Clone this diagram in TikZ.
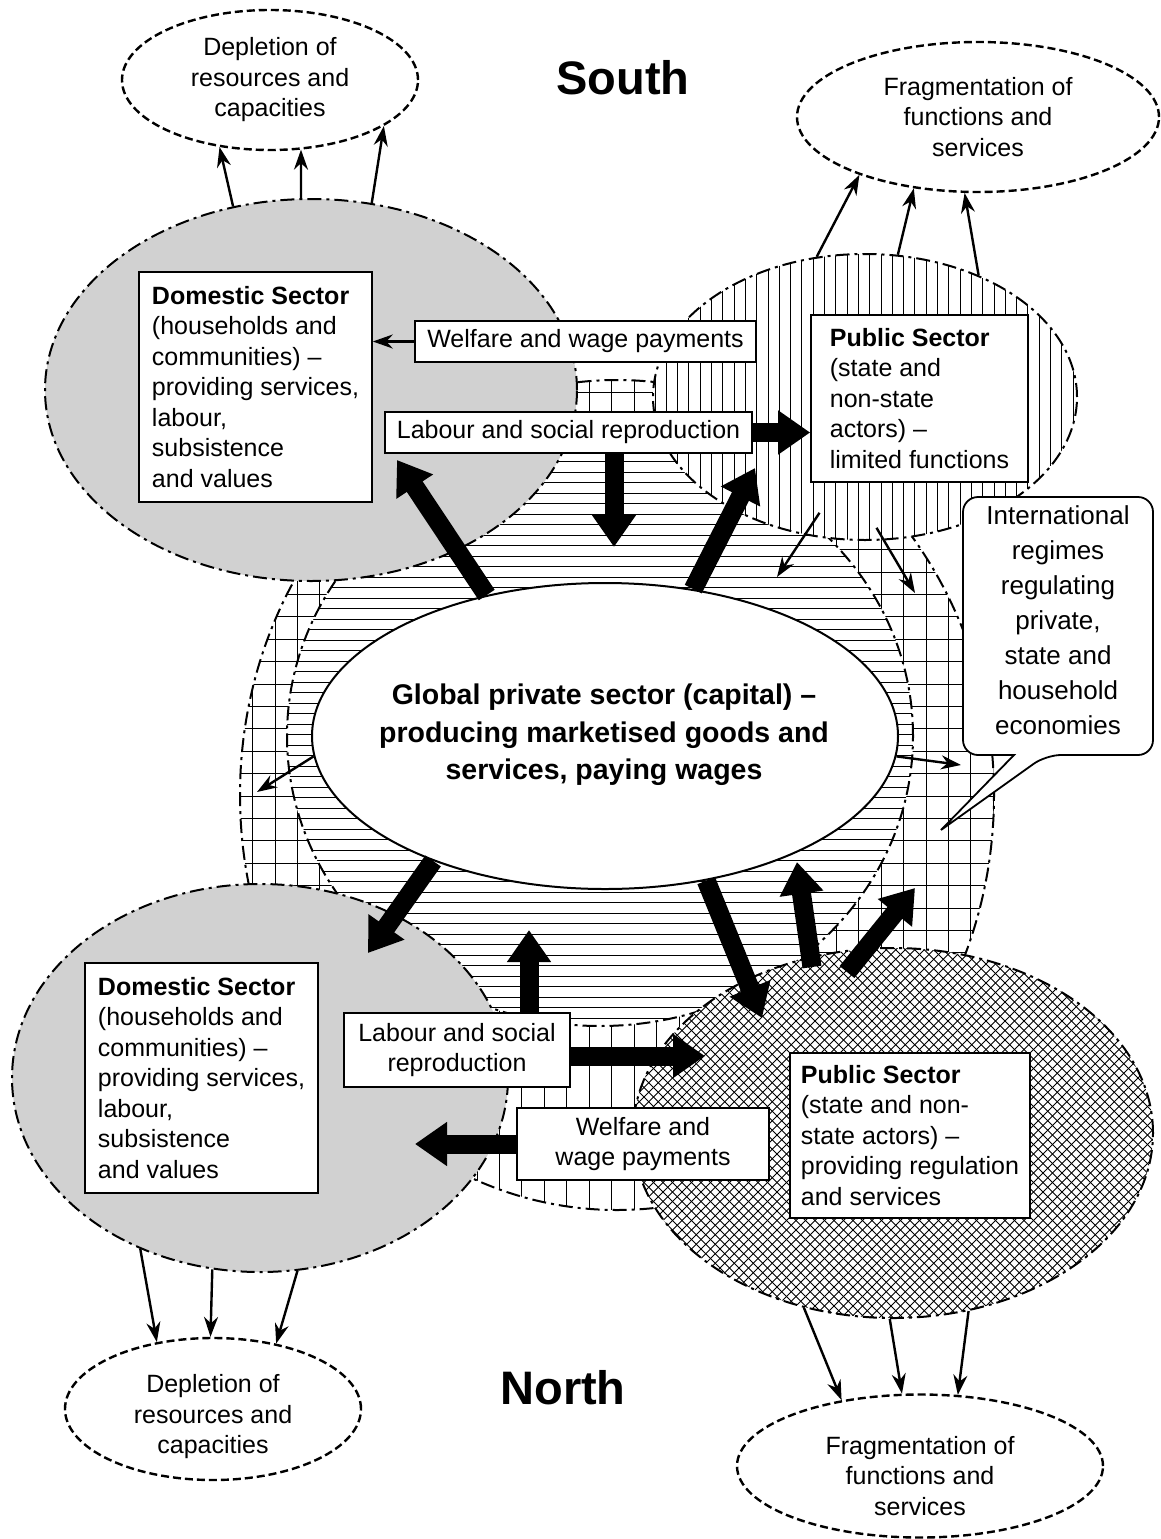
\documentclass[tikz,border=0pt]{standalone}
\usepackage{fontspec}
\setmainfont{Liberation Sans}
\usetikzlibrary{arrows.meta,shapes.geometric,calc}

\begin{document}
\begin{tikzpicture}[x=1pt,y=-1pt,
    dashdot/.style={line width=2pt,dash pattern=on 14pt off 5pt on 3pt off 5pt},
    sector/.style={ellipse,draw,inner sep=0pt,dashdot},
    hatch/.style={line width=0.9pt},
    outcome/.style={ellipse,draw,inner sep=0pt,line width=2.4pt,dash pattern=on 8pt off 4pt,align=center,font=\fontsize{25}{30.5}\selectfont},
    txt/.style={align=center,font=\fontsize{25}{30.5}\selectfont},
    infobox/.style={draw,fill=white,line width=1.6pt,inner sep=0pt,font=\fontsize{25}{30.5}\selectfont},
    bigarrow/.style={line width=19pt,-{Triangle[width=42pt,length=32pt]}},
    smallarrow/.style={line width=2.4pt,-{Stealth[length=20pt,width=14pt]}}]
  \useasboundingbox (0,0) rectangle (1160,1539);

  \node[sector,fill=white,minimum width=754pt,minimum height=830pt] (regimes) at (617,795) {};
  \begin{scope}
    \clip (617,795) ellipse [x radius=377pt,y radius=415pt];
    \foreach \x in {252.5,274.95,...,1000} \draw[hatch] (\x,370) -- (\x,1220);
    \clip (0,0) rectangle (1160,1000);
    \foreach \y in {392.9,415.3,...,1000} \draw[hatch] (230,\y) -- (1000,\y);
  \end{scope}

  \node[sector,fill=white,minimum width=626pt,minimum height=580pt] (market) at (600,736) {};
  \begin{scope}
    \clip (600,736) ellipse [x radius=313pt,y radius=290pt];
    \foreach \y in {451,461.5,...,1030} \draw[hatch] (280,\y) -- (920,\y);
  \end{scope}

  \node[sector,fill=white,minimum width=424pt,minimum height=286pt] (pubS) at (865,397) {};
  \begin{scope}
    \clip (865,397) ellipse [x radius=212pt,y radius=143pt];
    \foreach \x in {655,666.3,...,1080} \draw[hatch] (\x,250) -- (\x,545);
  \end{scope}

  \node[sector,minimum width=532pt,minimum height=382pt,fill=black!18] (domS) at (311,390) {};
  \node[sector,minimum width=496pt,minimum height=388pt,fill=black!18] (domN) at (260,1078) {};

  \node[sector,fill=white,minimum width=520pt,minimum height=370pt] (pubN) at (893,1133) {};
  \begin{scope}
    \clip (893,1133) ellipse [x radius=260pt,y radius=185pt];
    \foreach \c in {-700,-690.5,...,220} \draw[line width=0.8pt] (\c+940,940) -- (\c+1330,1330);
    \foreach \c in {1570,1579.5,...,2490} \draw[line width=0.8pt] (\c-940,940) -- (\c-1330,1330);
  \end{scope}

  \node[ellipse,draw,fill=white,line width=2pt,inner sep=0pt,minimum width=586pt,minimum height=306pt] (capital) at (605,736) {};
  \node[align=center,font=\fontsize{28.5}{37.5}\selectfont\bfseries] (capitaltxt) at (604,735) {Global private sector (capital) --\\producing marketised goods and\\services, paying wages};

  \node[outcome,minimum width=296pt,minimum height=140pt] (deplS) at (270,80) {Depletion of\\resources and\\capacities};
  \node[outcome,minimum width=362pt,minimum height=150pt] (fragS) at (978,117) {Fragmentation of\\functions and\\services};
  \node[outcome,minimum width=296pt,minimum height=142pt] (deplN) at (213,1409) {};
  \node[txt] (deplNtxt) at (213,1417) {Depletion of\\resources and\\capacities};
  \node[outcome,minimum width=366pt,minimum height=143pt] (fragN) at (920,1466) {};
  \node[txt] (fragNtxt) at (920,1476) {Fragmentation of\\functions and\\services};
  \node[font=\fontsize{47}{50}\selectfont\bfseries] (southlbl) at (623,78) {South};
  \node[font=\fontsize{47}{50}\selectfont\bfseries] (northlbl) at (563,1388) {North};

  \draw[line width=1.8pt,fill=white,rounded corners=15pt] (963,497) -- (1153,497) -- (1153,755) -- (1046,755) [sharp corners] -- (941,830) -- (1014,755) [rounded corners=15pt] -- (963,755) -- cycle;
  \node[align=center,font=\fontsize{26}{35}\selectfont] (regimestxt) at (1058,620) {International\\regimes\\regulating\\private,\\state and\\household\\economies};

  \node[infobox,align=left,minimum width=233pt,minimum height=230pt] (domSbox) at (255.5,387) {\textbf{Domestic Sector}\\(households and\\communities) --\\providing services,\\labour,\\subsistence\\and values};
  \node[infobox,align=left,minimum width=217pt,minimum height=167pt] (pubSbox) at (919.5,398.5) {\textbf{Public Sector}\\(state and\\non-state\\actors) --\\limited functions};
  \node[infobox,align=left,minimum width=233pt,minimum height=230pt] (domNbox) at (201.5,1078) {\textbf{Domestic Sector}\\(households and\\communities) --\\providing services,\\labour,\\subsistence\\and values};
  \node[infobox,align=left,minimum width=240pt,minimum height=165pt] (pubNbox) at (910,1135.5) {\textbf{Public Sector}\\(state and non-\\state actors) --\\providing regulation\\and services};
  \node[infobox,minimum width=341pt,minimum height=41pt] (welfS) at (585.5,341.5) {Welfare and wage payments};
  \node[infobox,minimum width=367pt,minimum height=41pt] (labS) at (568.5,432.5) {Labour and social reproduction};
  \node[infobox,align=center,minimum width=226pt,minimum height=74pt] (labN) at (457,1050) {Labour and social\\reproduction};
  \node[infobox,align=center,minimum width=252pt,minimum height=72pt] (welfN) at (643,1144) {Welfare and\\wage payments};

  \draw[smallarrow] (domS.113) -- (deplS.233);
  \draw[smallarrow] (domS.93) -- (deplS.294);
  \draw[smallarrow] (domS.72) -- (deplS.338);
  \draw[smallarrow] (pubS.109) -- (fragS.206);
  \draw[smallarrow] (pubS.77) -- (fragS.228);
  \draw[smallarrow] (pubS.47) -- (fragS.260);
  \draw[smallarrow] (domN.235) -- (deplN.130);
  \draw[smallarrow] (domN.256) -- (deplN.92);
  \draw[smallarrow] (domN.281) -- (deplN.46);
  \draw[smallarrow] (pubN.243) -- (fragN.140);
  \draw[smallarrow] (pubN.269) -- (fragN.104);
  \draw[smallarrow] (pubN.293) -- (fragN.62);

  \coordinate (tipDS) at (397,460);
  \coordinate (tipPS) at (755,468);
  \coordinate (tipLS) at (614,547);
  \coordinate (tipDN) at (368,953);
  \coordinate (tipPN) at (762,1018);
  \coordinate (tipUp1) at (797,862);
  \coordinate (tipUp2) at (915,888);
  \coordinate (tipLN) at (529,930);
  \coordinate (tipLNr) at (705,1056);
  \coordinate (tipWN) at (415,1144);
  \draw[bigarrow] (capital.130) -- (tipDS);
  \draw[bigarrow] (capital.59) -- (tipPS);
  \draw[bigarrow] (labS.south -| tipLS) -- (tipLS);
  \draw[bigarrow] (labS.east) -- (labS.east -| pubSbox.west);
  \draw[bigarrow] (capital.216) -- (tipDN);
  \draw[bigarrow] (capital.305) -- (tipPN);
  \draw[bigarrow] ($(pubN.north)+(-81,20)$) -- (tipUp1);
  \draw[bigarrow] ($(pubN.north)+(-46,25)$) -- (tipUp2);
  \draw[bigarrow] (labN.north -| tipLN) -- (tipLN);
  \draw[bigarrow] (labN.east |- tipLNr) -- (tipLNr);
  \draw[bigarrow] (welfN.west) -- (tipWN);

  \coordinate (tipM1) at (777,577);
  \coordinate (tipM2) at (915,593);
  \coordinate (tipGL) at (257,792);
  \coordinate (tipGR) at (961,765);
  \draw[smallarrow] (welfS.west) -- (welfS.west -| domSbox.east);
  \draw[smallarrow] ($(pubSbox.south)+(-100,30)$) -- (tipM1);
  \draw[smallarrow] ($(pubSbox.south)+(-43,45)$) -- (tipM2);
  \draw[smallarrow] (capital.184) -- (tipGL);
  \draw[smallarrow] (capital.356) -- (tipGR);
\end{tikzpicture}
\end{document}
